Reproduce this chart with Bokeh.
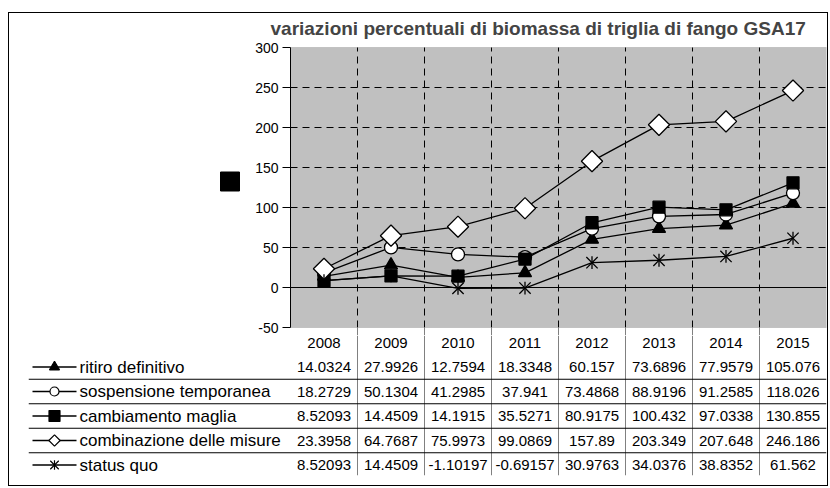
import math
from bokeh.plotting import figure
from bokeh.models import Range1d, Span, BoxAnnotation, ColumnDataSource
from bokeh.layouts import column
from bokeh.core.properties import value
from bokeh.embed import file_html
from bokeh.resources import INLINE

# ---------------- data ----------------
title_text = "variazioni percentuali di biomassa di triglia di fango GSA17"
years = ["2008", "2009", "2010", "2011", "2012", "2013", "2014", "2015"]
series_names = ["ritiro definitivo", "sospensione temporanea", "cambiamento maglia",
                "combinazione delle misure", "status quo"]
ritiro = [14.0324, 27.9926, 12.7594, 18.3348, 60.157, 73.6896, 77.9579, 105.076]
sospensione = [18.2729, 50.1304, 41.2985, 37.941, 73.4868, 88.9196, 91.2585, 118.026]
cambiamento = [8.52093, 14.4509, 14.1915, 35.5271, 80.9175, 100.432, 97.0338, 130.855]
combinazione = [23.3958, 64.7687, 75.9973, 99.0869, 157.89, 203.349, 207.648, 246.186]
status = [8.52093, 14.4509, -1.10197, -0.69157, 30.9763, 34.0376, 38.8352, 61.562]
y_ticks = [-50, 0, 50, 100, 150, 200, 250, 300]
series_values = [ritiro, sospensione, cambiamento, combinazione, status]

# ---------------- styles ----------------
FONT = "Liberation Sans"
marker_kind = ["triangle", "circle", "square", "square", "x"]
marker_fill = ["black", "white", "black", "white", "black"]
marker_angle = [0, 0, 0, math.pi / 4, 0]
plot_size = [13, 13, 12, 15, 16]
key_size = [10, 9, 11, 8, 12]

n = len(years)
m = len(series_names)
W = 818
CAT = 67            # px per category
LEG_PX = 262        # width of the legend column of the table
B_LEFT = 19
B_RIGHT = W - B_LEFT - LEG_PX - CAT * n
LEG = LEG_PX / CAT
Y_PX = 280 / (y_ticks[-1] - y_ticks[0])   # px per unit
PAD = 10                                   # units of padding above/below the plot box
ROW_PX = 24.5
TICK = 8 / CAT

xc = [i + 0.5 for i in range(n)]
bounds = list(range(1, n))
y0, y1 = y_ticks[0], y_ticks[-1]

# ---------------- chart ----------------
p = figure(width=W, height=322, x_range=Range1d(-LEG, n), y_range=Range1d(y0 - PAD, y1 + PAD),
           x_axis_type=None, y_axis_type=None, output_backend="svg", toolbar_location=None,
           min_border_left=B_LEFT, min_border_right=B_RIGHT, min_border_top=26, min_border_bottom=0,
           background_fill_color="white", outline_line_color=None, border_fill_color="white")
p.title.text = title_text
p.title.text_font = FONT
p.title.text_font_size = "19px"
p.title.text_font_style = "bold"
p.title.align = "left"
p.title.offset = LEG_PX - 20
p.title.standoff = 2

# plot area
p.add_layout(BoxAnnotation(left=0, right=n, bottom=y0, top=y1, fill_color="#C0C0C0", fill_alpha=1,
                           line_color="#808080", line_width=1, level="underlay"))
inner_ticks = [t for t in y_ticks if t not in (0, y0, y1)]
p.segment(x0=[0] * len(inner_ticks), y0=inner_ticks, x1=[n] * len(inner_ticks), y1=inner_ticks,
          line_color="black", line_width=1, line_dash="7 5")
p.segment(x0=bounds, y0=[y0] * len(bounds), x1=bounds, y1=[y1] * len(bounds),
          line_color="black", line_width=1, line_dash="7 5")
p.segment(x0=[0], y0=[0], x1=[n], y1=[0], line_color="black", line_width=1)
# table column separators continuing under the plot box
p.segment(x0=bounds, y0=[y0] * len(bounds), x1=bounds, y1=[y0 - PAD] * len(bounds),
          line_color="#808080", line_width=1)
# value axis: line, ticks, labels
p.segment(x0=[0], y0=[y0], x1=[0], y1=[y1], line_color="black", line_width=1)
p.segment(x0=[0] * len(y_ticks), y0=y_ticks, x1=[-TICK] * len(y_ticks), y1=y_ticks,
          line_color="black", line_width=1)
p.text(x=[0] * len(y_ticks), y=y_ticks, text=[str(v) for v in y_ticks], x_offset=-12,
       text_align="right", text_baseline="middle", text_font=value(FONT), text_font_size="14px",
       text_color="black")

for i, vals in enumerate(series_values):
    src = ColumnDataSource(dict(x=xc, y=vals))
    p.line("x", "y", source=src, line_color="black", line_width=1.3)
    p.scatter("x", "y", source=src, marker=marker_kind[i], size=plot_size[i], angle=marker_angle[i],
              fill_color=marker_fill[i], line_color="black", line_width=1.3)
    if marker_kind[i] == "x":
        p.scatter("x", "y", source=src, marker="dash", size=plot_size[i] * 0.8, angle=math.pi / 2,
                  line_color="black", line_width=1.3)

# stray legend marker of the original picture
p.scatter(x=[-60.5 / CAT], y=[y0 + 146 / Y_PX], marker="square", size=19, fill_color="black",
          line_color="black")

# ---------------- data table ----------------
top_gap = 7 / ROW_PX
bot_gap = 10.5 / ROW_PX
t = figure(width=W, height=150, x_range=Range1d(-LEG, n), y_range=Range1d(-m - bot_gap, top_gap),
           x_axis_type=None, y_axis_type=None, output_backend="svg", toolbar_location=None,
           min_border_left=B_LEFT, min_border_right=B_RIGHT, min_border_top=0,
           min_border_bottom=10, outline_line_color=None, background_fill_color="white")
for b in bounds:
    t.add_layout(Span(location=b, dimension="height", line_color="#808080", line_width=1))
for k in range(1, m):
    t.add_layout(Span(location=-k - 0.5, dimension="width", line_color="black", line_width=1))

# header row
t.text(x=xc, y=[0] * n, text=years, text_align="center", text_baseline="middle",
       text_font=value(FONT), text_font_size="15px", text_color="black")

tx, ty, tt = [], [], []
for i, vals in enumerate(series_values):
    for j, v in enumerate(vals):
        tx.append(xc[j])
        ty.append(-(i + 1))
        tt.append(str(v))
t.text(x=tx, y=ty, text=tt, text_align="center", text_baseline="middle",
       text_font=value(FONT), text_font_size="15px", text_color="black")

row_y = [-(i + 1) for i in range(m)]
t.segment(x0=[-LEG + 4 / CAT] * m, y0=row_y, x1=[-LEG + 48 / CAT] * m, y1=row_y,
          line_color="black", line_width=1.3)
for i in range(m):
    t.scatter(x=[-LEG + 26 / CAT], y=[row_y[i]], marker=marker_kind[i], size=key_size[i],
              angle=marker_angle[i], fill_color=marker_fill[i], line_color="black", line_width=1.2)
    if marker_kind[i] == "x":
        t.scatter(x=[-LEG + 26 / CAT], y=[row_y[i]], marker="dash", size=key_size[i] * 0.8,
                  angle=math.pi / 2, line_color="black", line_width=1.2)
t.text(x=[-LEG + 51 / CAT] * m, y=row_y, text=series_names, text_align="left",
       text_baseline="middle", text_font=value(FONT), text_font_size="17px", text_color="black")

layout = column(p, t, margin=(12, 0, 0, 8), styles={"border": "1px solid black"})
open("out.html", "w").write(file_html(layout, INLINE))
